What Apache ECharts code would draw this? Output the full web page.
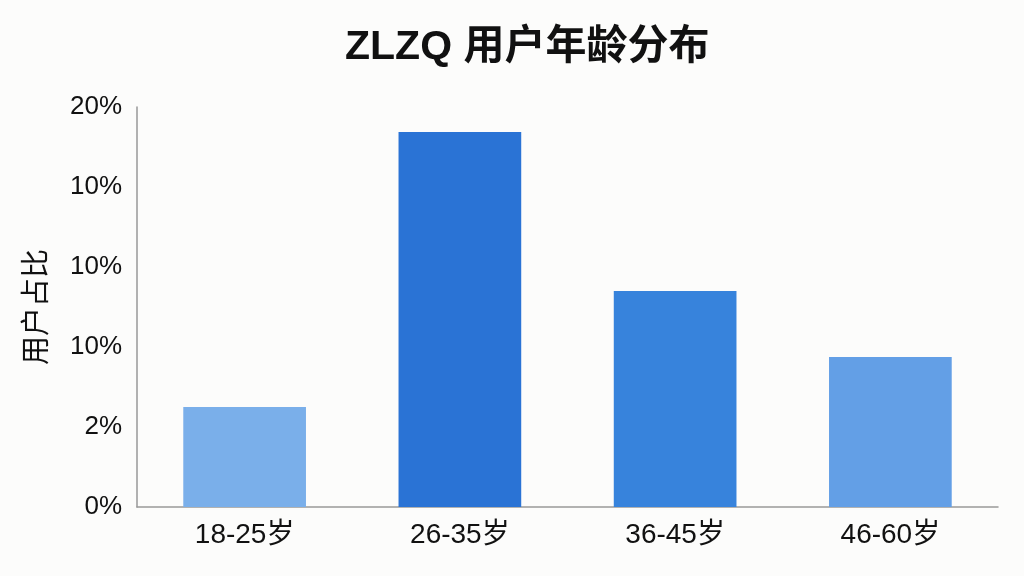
<!DOCTYPE html>
<html>
<head>
<meta charset="utf-8">
<script src="https://cdn.jsdelivr.net/npm/echarts@6/dist/echarts.min.js"></script>
<style>
  html, body { margin: 0; padding: 0; background: #fcfcfb; }
  #chart { width: 1024px; height: 576px; }
</style>
</head>
<body>
<div id="chart"></div>
<script>
var ageGroups = ["18-25岁", "26-35岁", "36-45岁", "46-60岁"];
var userShare = [5.0, 18.75, 10.8, 7.5];
var barColors = ["#7aafea", "#2a73d5", "#3783dc", "#639fe6"];
var yTickLabels = ["0%", "2%", "10%", "10%", "10%", "20%"];

var FONT = "'Liberation Sans', 'Noto Sans CJK SC', sans-serif";

var chart = echarts.init(document.getElementById("chart"));
chart.setOption({
    backgroundColor: "#fcfcfb",
    animation: false,
    textStyle: {fontFamily: FONT},
    title: {
        text: "ZLZQ 用户年龄分布",
        left: 340,
        top: 22,
        textStyle: {fontSize: 41, fontWeight: "bold", color: "#111", fontFamily: FONT}
    },
    grid: {left: 137, right: 26, top: 107, bottom: 69, containLabel: false},
    xAxis: {
        type: "category",
        data: ageGroups,
        axisLine: {lineStyle: {color: "#999", width: 1.5}},
        axisTick: {show: false},
        axisLabel: {fontSize: 28, color: "#111", margin: 14, fontFamily: FONT}
    },
    yAxis: {
        type: "value",
        min: 0,
        max: 20,
        interval: 4,
        name: "用户占比",
        nameLocation: "middle",
        nameGap: 84,
        nameTextStyle: {fontSize: 29, color: "#111", fontFamily: FONT},
        axisLine: {show: true, lineStyle: {color: "#999", width: 1.5}},
        axisTick: {show: false},
        splitLine: {show: false},
        axisLabel: {
            fontSize: 26, color: "#111", margin: 15, fontFamily: FONT,
            formatter: function (v) { return yTickLabels[Math.round(v / 4)]; }
        }
    },
    series: [{
        type: "bar",
        data: userShare.map(function (v, i) {
            return {value: v, itemStyle: {color: barColors[i]}};
        }),
        barWidth: "57%"
    }]
});
</script>
</body>
</html>
